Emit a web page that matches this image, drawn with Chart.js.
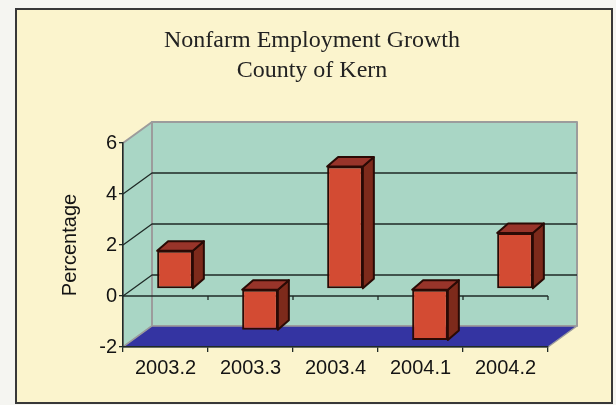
<!DOCTYPE html>
<html>
<head>
<meta charset="utf-8">
<script src="https://cdn.jsdelivr.net/npm/chart.js@4.4.1/dist/chart.umd.min.js"></script>
<style>
  body { margin: 0; background: #f5f5f1; }
  #frame {
    position: absolute; left: 15px; top: 8px;
    width: 594px; height: 392px;
    border: 2px solid #383838;
    background: #fbf4cd;
  }
  canvas { display: block; }
</style>
</head>
<body>
<div id="frame"><canvas id="growthChart" width="594" height="392"></canvas></div>
<script>
const quarters = ['2003.2', '2003.3', '2003.4', '2004.1', '2004.2'];
const growth = [1.5, -1.6, 4.8, -2.0, 2.2];
const yMin = -2;
const yMax = 6;
const yStep = 2;
const backGridValues = [0, 2, 4];

// depth offsets for the fake 3D box: walls, bar front plane and bar thickness
const WALL = { dx: 29, dy: -21 };
const FACE = { dx: 9.5, dy: -7 };
const BAR = { dx: 11, dy: -9.5 };

const WALL_COLOR = '#a9d6c5';
const FLOOR_COLOR = '#3434a2';
const EDGE_COLOR = '#9c9c9c';
const GRID_COLOR = '#1f2a26';
const BAR_FRONT = '#d34b33';
const BAR_TOP = '#98342a';
const BAR_SIDE = '#7d2a1b';
const BAR_EDGE = '#2a0a05';

function poly(ctx, pts, fill, stroke, lw) {
    ctx.beginPath();
    ctx.moveTo(pts[0][0], pts[0][1]);
    for (let i = 1; i < pts.length; i++) {
        ctx.lineTo(pts[i][0], pts[i][1]);
    }
    ctx.closePath();
    if (fill) {
        ctx.fillStyle = fill;
        ctx.fill();
    }
    if (stroke) {
        ctx.strokeStyle = stroke;
        ctx.lineWidth = lw || 1;
        ctx.lineJoin = 'round';
        ctx.stroke();
    }
}

function line(ctx, pts, color, lw) {
    ctx.beginPath();
    ctx.moveTo(pts[0][0], pts[0][1]);
    for (let i = 1; i < pts.length; i++) {
        ctx.lineTo(pts[i][0], pts[i][1]);
    }
    ctx.strokeStyle = color;
    ctx.lineWidth = lw;
    ctx.stroke();
}

const boxPlugin = {
    id: 'box3d',

    // walls, floor and back gridlines go under the axes
    beforeDraw(chart) {
        const ctx = chart.ctx;
        const a = chart.chartArea;
        const y = chart.scales.y;
        const L = a.left, R = a.right, T = a.top, B = a.bottom;
        const dx = WALL.dx, dy = WALL.dy;

        ctx.save();
        poly(ctx, [[L + dx, T + dy], [R + dx, T + dy], [R + dx, B + dy], [L + dx, B + dy]], WALL_COLOR, EDGE_COLOR, 2);
        poly(ctx, [[L, T], [L + dx, T + dy], [L + dx, B + dy], [L, B]], WALL_COLOR, EDGE_COLOR, 2);
        poly(ctx, [[L, B], [L + dx, B + dy], [R + dx, B + dy], [R, B]], FLOOR_COLOR, EDGE_COLOR, 1.5);

        backGridValues.forEach(v => {
            const py = y.getPixelForValue(v);
            line(ctx, [[L, py], [L + dx, py + dy], [R + dx, py + dy]], GRID_COLOR, 1.3);
        });

        // category axis running along the zero line of the front plane
        const y0 = y.getPixelForValue(0);
        line(ctx, [[L, y0], [R, y0]], GRID_COLOR, 1.3);
        const n = quarters.length;
        for (let i = 1; i <= n; i++) {
            const bx = L + i * (R - L) / n;
            line(ctx, [[bx, y0], [bx, y0 + 4]], GRID_COLOR, 1.3);
        }
        ctx.restore();
    },

    // shift the bars back into the box and give them a top and a side
    beforeDatasetsDraw(chart) {
        const ctx = chart.ctx;
        ctx.save();
        ctx.translate(FACE.dx, FACE.dy);
        chart.getDatasetMeta(0).data.forEach(bar => {
            const p = bar.getProps(['x', 'y', 'base', 'width'], true);
            const l = p.x - p.width / 2, r = p.x + p.width / 2;
            const t = Math.min(p.y, p.base), b = Math.max(p.y, p.base);
            poly(ctx, [[r, t], [r + BAR.dx, t + BAR.dy], [r + BAR.dx, b + BAR.dy], [r, b]], BAR_SIDE, BAR_EDGE, 2);
            poly(ctx, [[l, t], [r, t], [r + BAR.dx, t + BAR.dy], [l + BAR.dx, t + BAR.dy]], BAR_TOP, BAR_EDGE, 2);
        });
    },

    afterDatasetsDraw(chart) {
        chart.ctx.restore();
    }
};

Chart.defaults.font.family = '"Liberation Sans", Arial, sans-serif';
Chart.defaults.color = '#141414';

const ctx = document.getElementById('growthChart');
const growthChart = new Chart(ctx, {
    type: 'bar',
    data: {
        labels: quarters,
        datasets: [{
            label: 'Percentage',
            data: growth,
            backgroundColor: BAR_FRONT,
            borderColor: BAR_EDGE,
            borderWidth: 2,
            borderSkipped: false,
            barPercentage: 0.42,
            categoryPercentage: 1.0,
            clip: false
        }]
    },
    plugins: [boxPlugin],
    options: {
        responsive: false,
        animation: false,
        layout: {
            padding: { left: 41, right: 45, top: 0, bottom: 0 }
        },
        scales: {
            x: {
                grid: {
                    offset: true,
                    drawOnChartArea: false,
                    tickLength: 5,
                    color: GRID_COLOR,
                    lineWidth: 1.3
                },
                border: { color: GRID_COLOR, width: 1.5 },
                ticks: {
                    padding: 4,
                    font: { size: 20 },
                    maxRotation: 0
                },
                afterFit(scale) {
                    scale.height = 55;
                }
            },
            y: {
                min: yMin,
                max: yMax,
                grid: {
                    drawOnChartArea: false,
                    tickLength: 4,
                    color: GRID_COLOR,
                    lineWidth: 1.3
                },
                border: { color: GRID_COLOR, width: 1.5 },
                ticks: {
                    stepSize: yStep,
                    padding: 2,
                    font: { size: 20 }
                },
                title: {
                    display: true,
                    text: 'Percentage',
                    padding: 0,
                    font: { size: 20 }
                },
                afterFit(scale) {
                    scale.width = 65;
                }
            },
            // empty right-hand axis, only keeps room for the box depth
            yDepth: {
                position: 'right',
                min: yMin,
                max: yMax,
                grid: { display: false },
                border: { display: false },
                ticks: { display: false },
                afterFit(scale) {
                    scale.width = 18;
                }
            }
        },
        plugins: {
            legend: { display: false },
            tooltip: { enabled: false },
            title: {
                display: true,
                text: ['Nonfarm Employment Growth', 'County of Kern'],
                color: '#222222',
                font: {
                    family: '"Liberation Serif", "Times New Roman", serif',
                    size: 24,
                    weight: 'normal',
                    lineHeight: 1.25
                },
                padding: { top: 16, bottom: 57 }
            }
        }
    }
});
</script>
</body>
</html>
